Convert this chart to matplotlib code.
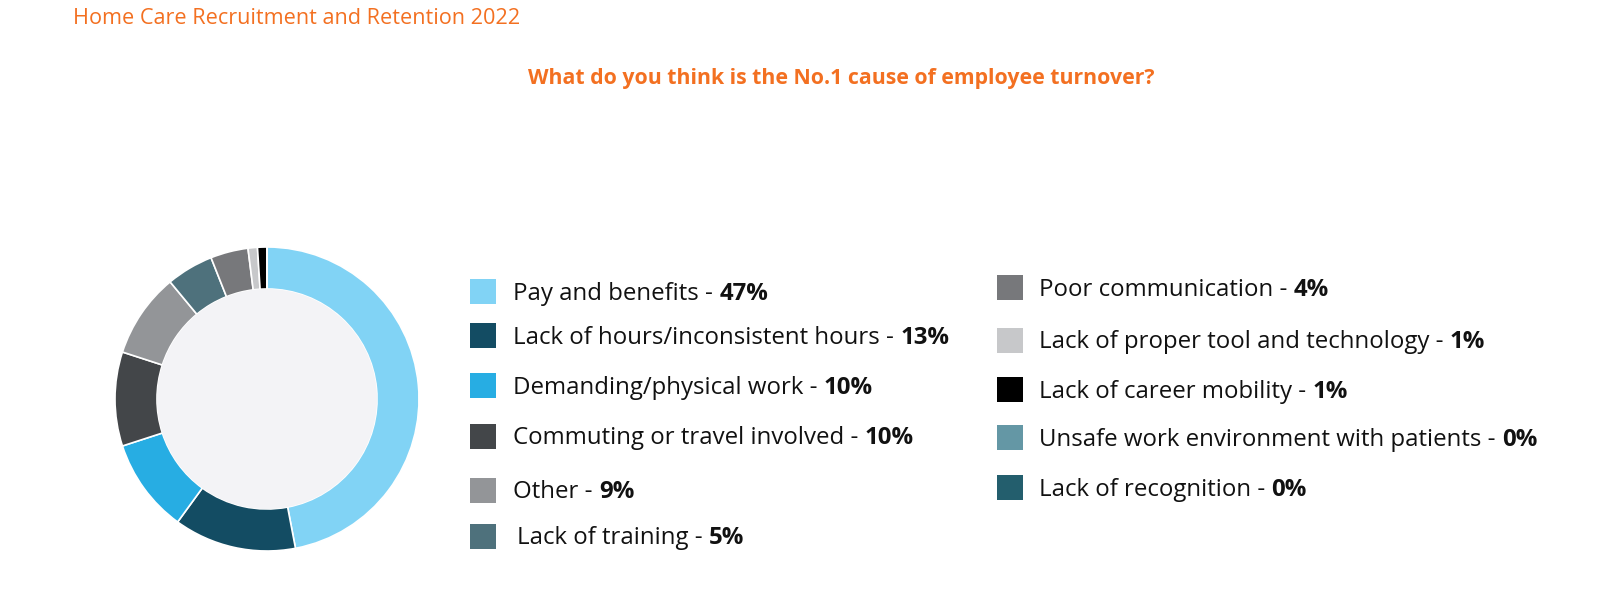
import matplotlib
matplotlib.use('Agg')
import matplotlib.pyplot as plt
from matplotlib.patches import Rectangle, Circle

W, H = 1600, 598

title = 'Home Care Recruitment and Retention 2022'
question = 'What do you think is the No.1 cause of employee turnover?'

causes = ['Pay and benefits', 'Lack of hours/inconsistent hours', 'Demanding/physical work',
          'Commuting or travel involved', 'Other', 'Lack of training',
          'Poor communication', 'Lack of proper tool and technology', 'Lack of career mobility',
          'Unsafe work environment with patients', 'Lack of recognition']
shares = [47, 13, 10, 10, 9, 5, 4, 1, 1, 0, 0]
colors = ['#81D3F5', '#134C63', '#27ADE3', '#434649', '#939598', '#4E717C',
          '#77787B', '#C7C8CA', '#000000', '#6497A5', '#235E6D']

orange = '#F37021'
plt.rcParams['font.family'] = ['Open Sans', 'DejaVu Sans']

fig = plt.figure(figsize=(W / 100, H / 100), dpi=100)
ax = fig.add_axes([0, 0, 1, 1])

def py(y):
    # pixel row (from top) -> data y
    return H - y

# donut
cx, cy, r_out, r_in = 267, 399, 152, 110
ax.pie(shares, colors=colors, startangle=90, counterclock=False,
       center=(cx, py(cy)), radius=r_out,
       wedgeprops=dict(width=r_out - r_in, edgecolor='white', linewidth=1.2))
ax.add_patch(Circle((cx, py(cy)), r_in, facecolor='#F3F3F6', edgecolor='none', zorder=3))

ax.set_xlim(0, W)
ax.set_ylim(0, H)
ax.set_aspect('auto')
ax.axis('off')

# titles
ax.text(73, py(24), title, color=orange, fontsize=15.6, va='baseline', ha='left')
ax.text(841, py(84), question, color=orange, fontsize=15.3, fontweight='bold',
        va='baseline', ha='center')

# legend: two columns
left_rows = [291, 335, 385, 436, 490, 536]
right_rows = [287, 340, 389, 437, 487]
slots = ([(470, 513, y) for y in left_rows] +
         [(997, 1039, y) for y in right_rows])
slots[5] = (470, 517, left_rows[5])

fig.canvas.draw()
renderer = fig.canvas.get_renderer()
for (sx, tx, y), name, val, col in zip(slots, causes, shares, colors):
    ax.add_patch(Rectangle((sx, py(y) - 12.5), 25.5, 25, facecolor=col,
                           edgecolor='none'))
    t = ax.text(tx, py(y + 8.5), name + ' - ', fontsize=17.3, color='#111111',
                va='baseline', ha='left')
    bb = t.get_window_extent(renderer)
    ax.text(bb.x1, py(y + 8.5), '%d%%' % val, fontsize=17.3, fontweight='bold',
            color='#111111', va='baseline', ha='left')

fig.savefig('out.png', dpi=100, facecolor='white')
